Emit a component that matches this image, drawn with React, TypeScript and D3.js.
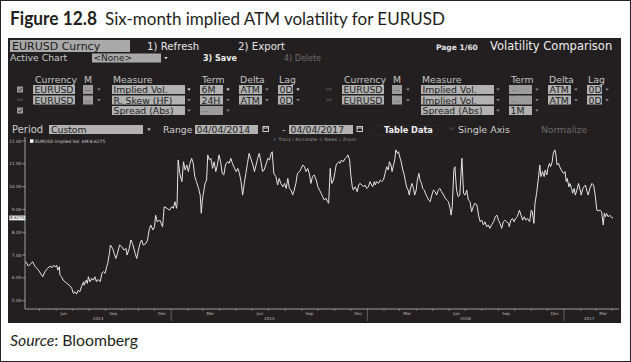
import React from "react";
import * as d3 from "d3";

const startDate = "2014-04-04";
const endDate = "2017-04-04";

const daysSinceStart = [0,3,6,12,14,19,25,31,33,37,42,47,50,53,56,59,61,64,65,68,71,78,84,87,90,93,96,99,102,105,109,110,114,116,118,121,124,127,130,133,136,140,143,146,149,152,154,157,159,163,166,169,172,176,180,184,188,190,194,197,200,205,208,211,214,217,220,225,228,231,234,238,241,243,246,251,256,259,264,269,273,276,279,282,283,
285,288,292,295,298,301,304,307,310,313,316,319,323,326,328,330,332,335,338,340,343,346,349,352,355,358,361,364,367,370,373,377,380,383,386,390,393,396,399,402,405,408,411,414,417,421,424,427,430,433,436,439,442,445,449,452,455,458,460,463,467,470,473,476,480,483,486,489,492,495,498,501,504,507,511,514,517,520,523,526,529,532,535,538,542,545,548,551,554,557,560,563,
565,568,569,571,574,577,579,581,584,586,589,592,596,599,601,604,606,609,611,614,616,618,621,623,627,630,633,636,639,642,645,647,650,652,654,658,661,664,667,670,673,676,678,681,683,685,688,690,693,695,698,700,703,705,708,710,713,715,718,720,723,725,728,730,733,735,738,740,743,745,748,751,754,757,760,763,766,769,772,775,779,782,785,788,791,793,795,798,800,803,806,809,
813,816,819,822,825,828,831,834,837,841,844,847,850,853,856,859,862,865,868,872,875,878,881,884,887,890,893,896,900,901,904,907,910,913,916,920,923,926,929,932,935,939,942,944,947,949,952,955,958,960,963,966,968,971,973,976,978,981,983,986,988,990,993,995,998,1002,1005,1007,1009,1012,1014,1017,1019,1022,1024,1027,1030,1033,1035,1038,1040,1043,1045,1048,1051,1055,1058,1061,1064,1067,1070,1073,1076,1078,1080,1082,1085,1088,1091,1094];

const impliedVol6M = [6.70,
6.66,6.52,6.64,6.71,6.49,6.34,6.12,6.05,6.27,6.42,6.52,6.44,6.55,6.49,6.55,6.34,6.49,6.12,6.05,5.90,5.76,5.64,5.54,5.32,5.39,5.29,5.46,5.39,5.61,5.83,5.68,5.90,5.76,6.05,5.83,5.98,5.90,6.05,5.83,5.93,5.83,6.20,6.27,6.20,6.49,6.64,7.07,7.44,7.29,7.07,6.85,7.07,7.44,7.37,7.22,7.29,7.00,7.29,7.66,7.51,7.07,6.85,7.22,7.51,7.66,7.44,7.51,7.66,8.10,8.32,8.10,8.24,8.75,8.46,8.53,8.24,9.12,9.05,8.97,9.12,9.05,9.34,9.05,9.27,
11.17,10.58,10.22,11.09,10.73,10.95,10.66,11.02,11.24,11.02,10.44,10.22,9.92,9.63,8.83,9.41,9.71,10.14,10.29,11.39,11.17,11.24,10.80,11.09,10.66,10.95,11.39,11.09,10.58,10.51,10.95,11.09,11.02,11.24,11.02,10.80,10.66,10.80,10.58,10.22,9.63,10.14,10.58,11.02,11.46,11.17,10.95,10.66,10.95,11.24,11.46,11.09,10.66,10.73,11.02,11.24,11.17,11.46,11.53,10.58,10.44,10.07,10.36,10.14,9.99,10.14,9.92,10.36,9.92,9.85,9.63,9.85,10.14,10.58,10.66,10.80,10.95,10.87,10.66,10.80,10.58,10.14,10.44,10.51,10.29,9.99,9.85,9.71,9.56,9.41,9.49,9.34,
9.27,10.80,10.44,10.14,10.29,10.66,10.95,11.02,11.09,11.02,11.17,11.09,11.24,11.31,11.39,11.17,10.58,9.99,9.85,9.99,9.92,9.78,10.07,10.14,10.07,9.99,10.07,9.92,9.99,10.22,10.07,9.99,10.22,10.07,10.22,10.14,10.29,10.22,10.29,10.58,10.87,10.73,11.09,10.95,10.66,10.87,11.17,11.61,11.46,11.53,11.24,11.09,10.73,10.58,10.22,9.99,9.85,9.63,9.99,10.14,9.92,9.63,9.85,10.29,10.58,10.29,10.14,9.92,9.85,9.71,9.56,9.41,9.34,9.63,9.85,9.78,9.63,9.85,9.92,9.78,9.63,9.49,9.41,9.34,9.05,8.75,9.12,10.73,10.87,9.85,9.56,9.63,
11.24,9.71,9.63,9.85,9.41,9.34,8.90,9.12,9.27,9.19,8.75,8.46,8.53,8.32,8.46,8.24,8.32,8.17,8.32,8.46,8.68,8.75,8.53,8.39,8.17,8.46,8.53,8.46,8.39,8.24,8.53,8.61,8.46,8.61,8.68,8.97,8.75,8.53,8.68,8.53,8.61,8.46,8.97,8.90,8.39,9.27,9.71,10.29,10.95,10.44,10.66,10.44,10.73,10.51,10.80,11.02,10.87,11.09,11.46,11.61,11.39,10.95,11.02,10.87,10.73,10.58,10.66,10.22,10.36,9.99,10.14,9.92,9.71,9.92,9.63,9.85,10.14,9.85,9.63,9.92,9.99,10.07,9.85,9.63,9.92,10.14,10.07,9.63,8.97,8.94,8.97,8.90,8.32,8.83,8.68,8.83,8.68,8.75,8.65,8.63];

const yTicks = [5, 6, 7, 8, 9, 10, 11, 12];
const lastValue = 8.6275;
const seriesLabel = "EURUSD Implied Vol. 6M 8.6275";
const quarterMonthLabels = ["Mar", "Jun", "Sep", "Dec"];

const tableHeaders = ["Currency", "M", "Measure", "Term", "Delta", "Lag"];
const group1Rows = [
  { check: "on", cur: "EURUSD", m: "--", measure: "Implied Vol.", term: "6M", delta: "ATM", lag: "0D", live: true },
  { check: "off", cur: "EURUSD", m: "--", measure: "R. Skew (HF)", term: "24H", delta: "ATM", lag: "0D", live: false },
  { check: "on", cur: null, m: null, measure: "Spread (Abs)", term: "--", delta: null, lag: null, live: false },
];
const group2Rows = [
  { check: "off", cur: "EURUSD", m: "--", measure: "Implied Vol.", term: "--", delta: "ATM", lag: "0D", live: false },
  { check: "off", cur: "EURUSD", m: "--", measure: "Implied Vol.", term: "--", delta: "ATM", lag: "0D", live: false },
  { check: "none", cur: null, m: null, measure: "Spread (Abs)", term: "1M", delta: null, lag: null, live: false },
];

const UI = "DejaVu Sans, sans-serif";
const BOX = "#b2b2b2";
const BOXTXT = "#1e1e1e";

function Arrow({ x, y, color }: { x: number; y: number; color: string }) {
  return <path d={`M${x - 1.8},${y - 1} L${x + 1.8},${y - 1} L${x},${y + 1.2} Z`} fill={color} />;
}

function Field({ x, y, w, text, txtColor = BOXTXT, fill = BOX }: any) {
  return (
    <g>
      <rect x={x} y={y} width={w} height={9} fill={fill} />
      <text x={x + 1.5} y={y + 8} fontSize={9.3} fill={txtColor} fontFamily={UI}>{text}</text>
    </g>
  );
}

function TableGroup({ gx, rows }: { gx: number; rows: any[] }) {
  const headerX = [35, 84, 113, 202, 240, 279];
  const rowTops = [85, 95.5, 106];
  return (
    <g>
      {tableHeaders.map((h, i) => (
        <text key={h} x={gx + headerX[i]} y={82.5} fontSize={9.3} fill="#c4c4c4" fontFamily={UI}>{h}</text>
      ))}
      {rows.map((r, i) => {
        const ty = rowTops[i];
        const arrowOn = "#e8e8e8";
        const arrowOff = "#8a8a8a";
        return (
          <g key={i}>
            {r.check === "on" && (
              <g>
                <rect x={gx + 17} y={ty + 1.5} width={6} height={6} fill="#9a9a9a" />
                <path d={`M${gx + 18.2},${ty + 4.6} L${gx + 19.6},${ty + 6} L${gx + 21.9},${ty + 2.9}`} stroke="#222" strokeWidth={0.9} fill="none" />
              </g>
            )}
            {r.check === "off" && <rect x={gx + 17} y={ty + 3} width={6} height={2.5} fill="#3c3c3c" />}
            {r.cur && <Field x={gx + 33} y={ty} w={42} text={r.cur} />}
            {r.m && (
              <g>
                <Field x={gx + 83} y={ty} w={10} text={r.m} txtColor="#707070" fill="#9c9c9c" />
                <Arrow x={gx + 99} y={ty + 4.5} color={arrowOff} />
              </g>
            )}
            <Field x={gx + 112} y={ty} w={73} text={r.measure} />
            <Arrow x={gx + 189} y={ty + 4.5} color={r.live ? arrowOn : arrowOff} />
            <Field x={gx + 200} y={ty} w={23} text={r.term} txtColor={r.term === "--" ? "#7a7a7a" : BOXTXT} fill={r.term === "--" ? "#9c9c9c" : BOX} />
            <Arrow x={gx + 228} y={ty + 4.5} color={r.live ? arrowOn : arrowOff} />
            {r.delta && (
              <g>
                <Field x={gx + 239} y={ty} w={23} text={r.delta} />
                <Arrow x={gx + 267} y={ty + 4.5} color={arrowOff} />
              </g>
            )}
            {r.lag && (
              <g>
                <Field x={gx + 278} y={ty} w={15} text={r.lag} />
                <Arrow x={gx + 298} y={ty + 4.5} color={r.live ? arrowOn : arrowOff} />
              </g>
            )}
          </g>
        );
      })}
    </g>
  );
}

function CalIcon({ x, y }: { x: number; y: number }) {
  return (
    <g stroke="#e0e0e0" strokeWidth={0.9} fill="none">
      <rect x={x} y={y} width={5.5} height={5} />
      <line x1={x} y1={y + 1.5} x2={x + 5.5} y2={y + 1.5} />
    </g>
  );
}

export default function App() {
  const parse = d3.timeParse("%Y-%m-%d");
  const d0 = parse(startDate) as Date;
  const d1 = parse(endDate) as Date;
  const x = d3.scaleTime().domain([d0, d1]).range([25, 614]);
  const y = d3.scaleLinear().domain([5, 12]).range([300.7, 141]);

  const data = daysSinceStart.map((d, i) => ({ date: d3.timeDay.offset(d0, d), v: impliedVol6M[i] }));
  const line = d3
    .line<{ date: Date; v: number }>()
    .x((p) => x(p.date))
    .y((p) => y(p.v));

  const axisY = 309;
  const monthStarts = d3.timeMonth.range(d3.timeMonth.ceil(d0), d1);
  const quarterLabels = monthStarts.filter((m) => quarterMonthLabels.includes(d3.timeFormat("%b")(m)));
  const yearStarts = d3.timeYear.range(d3.timeYear.ceil(d0), d1);
  const yearBounds = [d0, ...yearStarts, d1];
  const yearLabels = yearBounds.slice(0, -1).map((s, i) => ({
    label: d3.timeFormat("%Y")(s),
    cx: (x(s) + x(yearBounds[i + 1])) / 2,
  }));

  return (
    <svg
      width={631}
      height={362}
      style={{ position: "absolute", left: 0, top: 0, background: "#fff" }}
    >
      <rect x={0.5} y={0.5} width={630} height={361} fill="#fff" stroke="#222" strokeWidth={1} />
      <text x={10} y={25} fontFamily="Lato, sans-serif" fontWeight={700} fontSize={18} fill="#231f20" textLength={87} lengthAdjust="spacingAndGlyphs">
        Figure 12.8
      </text>
      <text x={105} y={25} fontFamily="Lato, sans-serif" fontSize={18} fill="#231f20" textLength={340} lengthAdjust="spacingAndGlyphs">
        Six-month implied ATM volatility for EURUSD
      </text>

      {/* Bloomberg panel */}
      <rect x={8} y={38} width={613} height={285} fill="#231f20" />

      {/* header row */}
      <rect x={10} y={40} width={120} height={12} fill="#a9a9a9" />
      <text x={12} y={50} fontSize={11} fill="#1c1c1c" fontFamily={UI}>EURUSD Curncy</text>
      <text x={147} y={50} fontSize={10.2} fill="#e6e6e6" fontFamily={UI}>1) Refresh</text>
      <text x={238} y={50} fontSize={10.2} fill="#e6e6e6" fontFamily={UI}>2) Export</text>
      <text x={436} y={50} fontSize={7.5} fontWeight={700} fill="#e6e6e6" fontFamily={UI}>Page 1/60</text>
      <text x={490} y={50} fontSize={11.5} fill="#eeeeee" fontFamily={UI}>Volatility Comparison</text>

      {/* row 2 */}
      <text x={10} y={61} fontSize={9.3} fill="#c8c8c8" fontFamily={UI}>Active Chart</text>
      <rect x={92} y={53.5} width={69} height={9} fill="#a9a9a9" />
      <text x={93.5} y={61.3} fontSize={9} fill="#222" fontFamily={UI}>&lt;None&gt;</text>
      <Arrow x={166} y={58} color="#dddddd" />
      <text x={203} y={61} fontSize={8} fontWeight={700} fill="#eeeeee" fontFamily={UI}>3) Save</text>
      <text x={284} y={61} fontSize={8} fill="#6e6e6e" fontFamily={UI}>4) Delete</text>

      <TableGroup gx={0} rows={group1Rows} />
      <TableGroup gx={309} rows={group2Rows} />

      {/* period row */}
      <text x={12} y={133} fontSize={10} fill="#cfcfcf" fontFamily={UI}>Period</text>
      <rect x={49} y={125} width={94} height={9} fill={BOX} />
      <text x={51} y={133} fontSize={9.3} fill={BOXTXT} fontFamily={UI}>Custom</text>
      <Arrow x={149} y={129.5} color="#dddddd" />
      <text x={163} y={133} fontSize={9.3} fill="#cfcfcf" fontFamily={UI}>Range</text>
      <rect x={195} y={125} width={63} height={9} fill={BOX} />
      <text x={196.5} y={133} fontSize={9.3} fill={BOXTXT} fontFamily={UI}>04/04/2014</text>
      <CalIcon x={263} y={126.5} />
      <text x={282} y={133} fontSize={9.3} fill="#cfcfcf" fontFamily={UI}>-</text>
      <rect x={289} y={125} width={64} height={9} fill={BOX} />
      <text x={290.5} y={133} fontSize={9.3} fill={BOXTXT} fontFamily={UI}>04/04/2017</text>
      <CalIcon x={357} y={126.5} />
      <rect x={373} y={125.5} width={65} height={9} fill="none" stroke="#2e2e2e" strokeWidth={0.6} />
      <text x={384} y={133} fontSize={8.2} fontWeight={700} fill="#f0f0f0" fontFamily={UI}>Table Data</text>
      <rect x={449} y={127.5} width={5} height={2} fill="#3c3c3c" />
      <text x={458} y={133} fontSize={9.5} fill="#cfcfcf" fontFamily={UI}>Single Axis</text>
      <text x={541} y={133} fontSize={9.2} fill="#6a6a6a" fontFamily={UI}>Normalize</text>

      {/* chart legend + tools */}
      <rect x={30} y={139.3} width={3.5} height={3.5} fill="#ffffff" />
      <text x={35} y={142.5} fontSize={4.4} fill="#cccccc" fontFamily={UI}>{seriesLabel}</text>
      <text x={273} y={140.8} fontSize={4.4} fill="#9a9a9a" fontFamily={UI} textLength={83} lengthAdjust="spacing">
        + Track   ⁄ Annotate   ≡ News   ⌕ Zoom
      </text>

      {/* y axis */}
      <line x1={25} y1={137} x2={25} y2={axisY} stroke="#bdbdbd" strokeWidth={0.8} />
      {yTicks.map((t) => (
        <g key={t}>
          <line x1={22.5} x2={25} y1={y(t)} y2={y(t)} stroke="#bdbdbd" strokeWidth={0.8} />
          <text x={21.5} y={y(t) + 1.5} textAnchor="end" fontSize={4.4} fill="#bdbdbd" fontFamily={UI}>
            {d3.format(".2f")(t)}
          </text>
        </g>
      ))}
      <rect x={9.3} y={y(lastValue) - 2.4} width={16} height={4.8} fill="#f4f4f4" />
      <text x={17.3} y={y(lastValue) + 1.5} textAnchor="middle" fontSize={4.2} fill="#222" fontFamily={UI}>
        {d3.format(".4f")(lastValue)}
      </text>

      {/* x axis */}
      <line x1={25} x2={619} y1={axisY} y2={axisY} stroke="#a8a8a8" strokeWidth={0.9} />
      {monthStarts.map((m) => (
        <line key={+m} x1={x(m)} x2={x(m)} y1={axisY} y2={axisY + 1.8} stroke="#a8a8a8" strokeWidth={0.7} />
      ))}
      {quarterLabels.map((m) => (
        <text key={+m} x={x(d3.timeDay.offset(m, 14))} y={315} textAnchor="middle" fontSize={4.2} fill="#bdbdbd" fontFamily={UI}>
          {d3.timeFormat("%b")(m)}
        </text>
      ))}
      {yearStarts.map((s) => (
        <line key={+s} x1={x(s)} x2={x(s)} y1={311} y2={321} stroke="#8a8a8a" strokeWidth={0.6} />
      ))}
      {yearLabels.map((yl) => (
        <text key={yl.label} x={yl.cx} y={319.5} textAnchor="middle" fontSize={4.2} fill="#bdbdbd" fontFamily={UI}>
          {yl.label}
        </text>
      ))}

      {/* series */}
      <path d={line(data) || ""} fill="none" stroke="#e4e4e4" strokeWidth={1} strokeLinejoin="round" />

      {/* source */}
      <text x={10} y={346} fontFamily="Lato, sans-serif" fontSize={15.8} fill="#231f20">
        <tspan fontStyle="italic">Source</tspan>
        <tspan>: Bloomberg</tspan>
      </text>
    </svg>
  );
}
